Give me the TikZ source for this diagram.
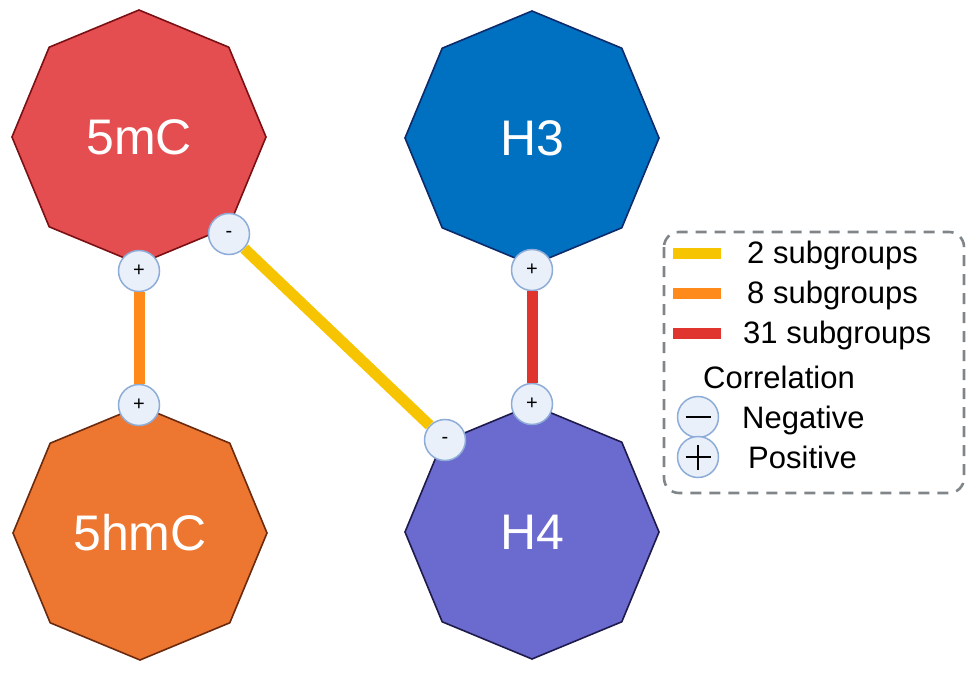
\documentclass[tikz,border=0pt]{standalone}
\usepackage{fontspec}
\setmainfont{Liberation Sans}
\usetikzlibrary{shapes.geometric}
\definecolor{mcfill}{HTML}{E54E50}
\definecolor{mcline}{HTML}{7A1014}
\definecolor{hmcfill}{HTML}{ED7731}
\definecolor{hmcline}{HTML}{6B2A0E}
\definecolor{hthreefill}{HTML}{0070C0}
\definecolor{hthreeline}{HTML}{0D2A6B}
\definecolor{hfourfill}{HTML}{6A6ACF}
\definecolor{hfourline}{HTML}{1E1B4B}
\definecolor{sgnfill}{HTML}{E9F0FA}
\definecolor{sgnline}{HTML}{8EACD8}
\definecolor{twocol}{HTML}{F6C400}
\definecolor{eightcol}{HTML}{FF8A1C}
\definecolor{thirtycol}{HTML}{E0352F}
\definecolor{boxgray}{HTML}{7F8588}
\tikzset{
	octa/.style={regular polygon,regular polygon sides=8,shape border rotate=22.5,minimum size=254pt,inner sep=0pt,line width=1.6pt,text=white,font=\fontsize{50}{50}\selectfont},
	sgn/.style={circle,draw=sgnline,fill=sgnfill,line width=1.5pt,minimum size=41pt,inner sep=0pt,font=\fontsize{20}{20}\selectfont},
	link/.style={line width=11pt},
	swatch/.style={rectangle,minimum width=48pt,minimum height=11pt,inner sep=0pt},
	legtext/.style={anchor=base west,inner sep=0pt,font=\fontsize{31}{31}\selectfont}
}
\begin{document}
\begin{tikzpicture}[x=1pt,y=-1pt]
				\useasboundingbox (0,0) rectangle (980,674);
				% marks
				\node[octa,draw=mcline,fill=mcfill] (mc) at (139,137) {5mC};
				\node[octa,draw=hthreeline,fill=hthreefill] (hthree) at (532,138) {H3};
				\node[octa,draw=hmcline,fill=hmcfill] (hmc) at (140,533) {5hmC};
				\node[octa,draw=hfourline,fill=hfourfill] (hfour) at (532,532) {H4};
				% correlation signs
				\node[sgn] (mcpos) at (139,271) {+};
				\node[sgn] (mcneg) at (229,234) {-};
				\node[sgn] (hmcpos) at (139,405) {+};
				\node[sgn] (hthreepos) at (532,270) {+};
				\node[sgn] (hfourpos) at (532,404) {+};
				\node[sgn] (hfourneg) at (445,440) {-};
				\draw[link,eightcol] (mcpos) -- (hmcpos);
				\draw[link,twocol] (mcneg) -- (hfourneg);
				\draw[link,thirtycol] (hthreepos) -- (hfourpos);
				% legend
				\draw[boxgray,line width=2.6pt,dash pattern=on 11pt off 8pt,rounded corners=15pt] (664,232) rectangle (964,493);
				\node[swatch,fill=twocol] (sw2) at (697,253) {};
				\node[swatch,fill=eightcol] (sw8) at (697,293) {};
				\node[swatch,fill=thirtycol] (sw31) at (697,333) {};
				\node[legtext] (l2) at (747,263) {2 subgroups};
				\node[legtext] (l8) at (747,303) {8 subgroups};
				\node[legtext] (l31) at (743,343) {31 subgroups};
				\node[legtext] (lcor) at (703,388) {Correlation};
				\node[sgn] (lneg) at (698,417) {};
				\node[sgn] (lpos) at (698,457) {};
				\draw[line width=1.6pt] ([xshift=-12.5pt]lneg.center) -- ([xshift=12.5pt]lneg.center);
				\draw[line width=1.6pt] ([xshift=-12.5pt]lpos.center) -- ([xshift=12.5pt]lpos.center);
				\draw[line width=1.6pt] ([yshift=-12.5pt]lpos.center) -- ([yshift=12.5pt]lpos.center);
				\node[legtext] (lnegt) at (742,428) {Negative};
				\node[legtext] (lpost) at (748,468) {Positive};
			\end{tikzpicture}
\end{document}
